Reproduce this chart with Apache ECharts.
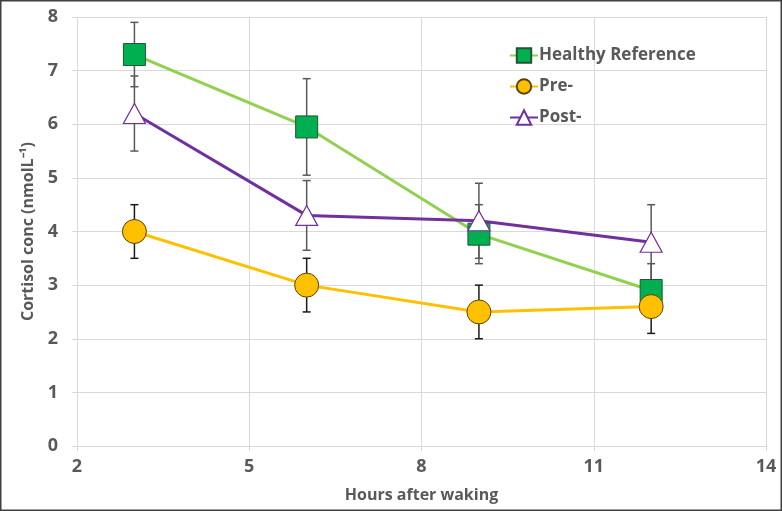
<!DOCTYPE html>
<html><head><meta charset="utf-8">
<script src="https://cdn.jsdelivr.net/npm/echarts@6/dist/echarts.min.js"></script>
<style>html,body{margin:0;padding:0;background:#fff}#c{width:782px;height:511px}</style>
</head><body><div id="c"></div>
<script>
const hours = [3, 6, 9, 12];
const healthy = [7.3, 5.95, 3.95, 2.9];
const healthyErr = [0.6, 0.9, 0.55, 0.5];
const pre = [4.0, 3.0, 2.5, 2.6];
const preErr = [0.5, 0.5, 0.5, 0.5];
const post = [6.2, 4.3, 4.2, 3.8];
const postErr = [0.7, 0.65, 0.7, 0.7];
const xTicks = [2, 5, 8, 11, 14];
const yTicks = [0, 1, 2, 3, 4, 5, 6, 7, 8];

const font = '"Open Sans", sans-serif';
const txt = '#595959';

function pairs(v){ return hours.map((h,i)=>[h, v[i]]); }
function errData(v, e){ return hours.map((h,i)=>[h, v[i]-e[i], v[i]+e[i]]); }
function errSeries(v, e, color, z){
  return {
    type:'custom', z:z, silent:true,
    data: errData(v,e),
    renderItem:function(params, api){
      const x = api.value(0);
      const lo = api.coord([x, api.value(1)]);
      const hi = api.coord([x, api.value(2)]);
      const w = 4;
      const st = {stroke:color, lineWidth:1.5};
      return {type:'group', children:[
        {type:'line', shape:{x1:lo[0],y1:lo[1],x2:hi[0],y2:hi[1]}, style:st},
        {type:'line', shape:{x1:lo[0]-w,y1:lo[1],x2:lo[0]+w,y2:lo[1]}, style:st},
        {type:'line', shape:{x1:hi[0]-w,y1:hi[1],x2:hi[0]+w,y2:hi[1]}, style:st}
      ]};
    }
  };
}

const chart = echarts.init(document.getElementById('c'));
chart.setOption({
  animation:false,
  graphic:[{type:'rect', shape:{x:0.75,y:0.75,width:780.5,height:509.5}, style:{fill:'none', stroke:'#404040', lineWidth:1.5}, z:100}],
  grid:{left:77, right:16, top:17, bottom:65},
  legend:{
    orient:'vertical', left:504, top:42, itemGap:14, itemWidth:28, itemHeight:18,
    textStyle:{fontFamily:font, fontSize:17, fontWeight:'bold', color:txt, padding:[0,0,0,-4]},
    data:['Healthy Reference','Pre-','Post-']
  },
  xAxis:{
    type:'value', min:xTicks[0], max:xTicks[xTicks.length-1], interval:3,
    name:'Hours after waking', nameLocation:'middle', nameGap:41,
    nameTextStyle:{fontFamily:font, fontSize:16, fontWeight:'bold', color:txt},
    axisLine:{show:true, lineStyle:{color:'#d9d9d9'}},
    axisTick:{show:true, length:5, lineStyle:{color:'#d9d9d9'}},
    axisLabel:{fontFamily:font, fontSize:18, fontWeight:'bold', color:txt, margin:12},
    splitLine:{show:true, lineStyle:{color:'#d9d9d9'}}
  },
  yAxis:{
    type:'value', min:yTicks[0], max:yTicks[yTicks.length-1], interval:1,
    name:'Cortisol conc (nmolL⁻¹)', nameLocation:'middle', nameGap:36,
    nameTextStyle:{fontFamily:font, fontSize:16, fontWeight:'bold', color:txt},
    axisLine:{show:false},
    axisTick:{show:true, length:5, lineStyle:{color:'#d9d9d9'}},
    axisLabel:{fontFamily:font, fontSize:18, fontWeight:'bold', color:txt, margin:19},
    splitLine:{show:true, lineStyle:{color:'#d9d9d9'}}
  },
  series:[
    errSeries(healthy, healthyErr, '#595959', 2),
    errSeries(pre, preErr, '#1a1a1a', 2),
    errSeries(post, postErr, '#595959', 2),
    {name:'Healthy Reference', type:'line', data:pairs(healthy), z:3,
     symbol:'rect', symbolSize:22,
     lineStyle:{color:'#92D050', width:3},
     itemStyle:{color:'#00B050', borderColor:'#1e5631', borderWidth:1}},
    {name:'Pre-', type:'line', data:pairs(pre), z:3,
     symbol:'circle', symbolSize:24,
     lineStyle:{color:'#FFC000', width:3},
     itemStyle:{color:'#FFC000', borderColor:'#5a4300', borderWidth:1}},
    {name:'Post-', type:'line', data:pairs(post), z:3,
     symbol:'triangle', symbolSize:[22,20],
     lineStyle:{color:'#7030A0', width:3},
     itemStyle:{color:'#ffffff', borderColor:'#7030A0', borderWidth:1.2}}
  ]
});
</script></body></html>
